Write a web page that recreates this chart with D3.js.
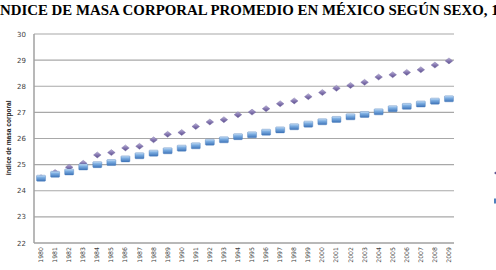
<!DOCTYPE html>
<html lang="es">
<head>
    <meta charset="UTF-8">
    <title>IMC promedio en México según sexo</title>
    <script src="https://d3js.org/d3.v7.min.js"></script>
    <style>
        body { margin: 0; background: #fff; }
    </style>
</head>
<body>
    <script>
        // Datos
        const anios = ['1980', '1981', '1982', '1983', '1984', '1985', '1986', '1987', '1988', '1989',
                       '1990', '1991', '1992', '1993', '1994', '1995', '1996', '1997', '1998', '1999',
                       '2000', '2001', '2002', '2003', '2004', '2005', '2006', '2007', '2008', '2009'];
        const mujeres = [24.50, 24.70, 24.90, 25.05, 25.37, 25.46, 25.64, 25.70, 25.95, 26.16,
                         26.23, 26.46, 26.63, 26.72, 26.91, 27.01, 27.14, 27.33, 27.44, 27.60,
                         27.76, 27.92, 28.03, 28.15, 28.35, 28.44, 28.53, 28.63, 28.81, 28.97];
        const hombres = [24.48, 24.63, 24.72, 24.91, 25.00, 25.08, 25.22, 25.34, 25.44, 25.53,
                         25.63, 25.72, 25.86, 25.95, 26.07, 26.14, 26.24, 26.33, 26.45, 26.55,
                         26.64, 26.73, 26.83, 26.92, 27.02, 27.14, 27.23, 27.32, 27.43, 27.52];
        const ticksY = [22, 23, 24, 25, 26, 27, 28, 29, 30];
        const titulo = 'ÍNDICE DE MASA CORPORAL PROMEDIO EN MÉXICO SEGÚN SEXO, 1980-2009';
        const tituloEje = 'índice de masa corporal';
        const leyenda = ['Mujeres', 'Hombres'];

        const ancho = 496, alto = 270;
        const izq = 34, der = 454, arriba = 34, abajo = 243;

        const svg = d3.select('body').append('svg')
            .attr('width', ancho).attr('height', alto);

        const defs = svg.append('defs');
        const gMuj = defs.append('linearGradient').attr('id', 'gMuj')
            .attr('x1', 0).attr('y1', 0).attr('x2', 0).attr('y2', 1);
        gMuj.append('stop').attr('offset', '0%').attr('stop-color', '#b9b0d8');
        gMuj.append('stop').attr('offset', '50%').attr('stop-color', '#8577b0');
        gMuj.append('stop').attr('offset', '100%').attr('stop-color', '#5e5190');
        const gHom = defs.append('linearGradient').attr('id', 'gHom')
            .attr('x1', 0).attr('y1', 0).attr('x2', 0).attr('y2', 1);
        gHom.append('stop').attr('offset', '0%').attr('stop-color', '#cfe3f7');
        gHom.append('stop').attr('offset', '35%').attr('stop-color', '#7fb0e3');
        gHom.append('stop').attr('offset', '100%').attr('stop-color', '#3d73b8');

        // Escalas
        const x = d3.scaleBand().domain(anios).range([izq, 456]);
        const y = d3.scaleLinear().domain([22, 30]).range([abajo, arriba]);

        // Líneas de cuadrícula
        svg.append('g').selectAll('line').data(ticksY.slice(1)).join('line')
            .attr('x1', izq).attr('x2', der)
            .attr('y1', d => y(d)).attr('y2', d => y(d))
            .attr('stroke', '#a8a8a8').attr('stroke-width', 1.2);

        // Ejes
        svg.append('line').attr('x1', izq).attr('x2', izq).attr('y1', arriba).attr('y2', abajo)
            .attr('stroke', '#a0a0a0').attr('stroke-width', 1.5);
        svg.append('line').attr('x1', izq).attr('x2', der).attr('y1', abajo).attr('y2', abajo)
            .attr('stroke', '#a0a0a0').attr('stroke-width', 1.5);

        svg.append('g').selectAll('text').data(ticksY).join('text')
            .attr('x', 26).attr('y', d => y(d) + 2.5)
            .attr('text-anchor', 'end')
            .style('font', '7px "DejaVu Sans"').style('fill', '#404040')
            .text(d => d);

        svg.append('g').selectAll('text').data(anios).join('text')
            .attr('transform', d => `translate(${x(d) + x.bandwidth() / 2 + 2},247) rotate(-90)`)
            .attr('text-anchor', 'end')
            .style('font', '6.2px "DejaVu Sans"').style('fill', '#404040')
            .text(d => d);

        svg.append('text')
            .attr('transform', 'translate(11,138) rotate(-90)')
            .attr('text-anchor', 'middle')
            .attr('textLength', 75).attr('lengthAdjust', 'spacingAndGlyphs')
            .style('font', 'bold 6.5px "Liberation Sans"').style('fill', '#222')
            .text(tituloEje);

        // Marcadores
        const cx = d => x(d) + x.bandwidth() / 2;
        svg.append('g').selectAll('path').data(anios).join('path')
            .attr('d', (d, i) => {
                const px = cx(d), py = y(mujeres[i]);
                return `M${px - 3.8},${py}L${px},${py - 3}L${px + 3.8},${py}L${px},${py + 3}Z`;
            })
            .attr('fill', 'url(#gMuj)').attr('stroke', '#6f64a0').attr('stroke-width', 0.4);

        svg.append('g').selectAll('rect').data(anios).join('rect')
            .attr('x', d => cx(d) - 4.5).attr('y', (d, i) => y(hombres[i]) - 3)
            .attr('width', 9).attr('height', 6).attr('rx', 0.8)
            .attr('fill', 'url(#gHom)').attr('stroke', '#4a7cbc').attr('stroke-width', 0.4);

        // Leyenda (cortada en el borde derecho, como en el original)
        svg.append('path').attr('d', 'M494,173L498,170L502,173L498,176Z').attr('fill', '#5a5290');
        svg.append('rect').attr('x', 494).attr('y', 198.5).attr('width', 9).attr('height', 5)
            .attr('fill', '#4f81bd');
        svg.append('g').selectAll('text').data(leyenda).join('text')
            .attr('x', 506).attr('y', (d, i) => 176 + i * 28)
            .style('font', '8px "DejaVu Sans"').text(d => d);

        // Título (se sale por ambos lados, como en el original)
        const t = svg.append('text').attr('y', 15)
            .style('font-family', '"Liberation Serif"').style('font-weight', 'bold')
            .style('font-size', '14px').style('fill', '#000').text(titulo);
        const node = t.node();
        const fin = titulo.indexOf('1980') + 1;
        const wI = node.getSubStringLength(0, 1);
        const wVis = node.getSubStringLength(1, fin - 1);
        const fs = 14 * 499 / wVis;
        t.style('font-size', fs + 'px').attr('x', -wI * fs / 14);
    </script>
</body>
</html>
